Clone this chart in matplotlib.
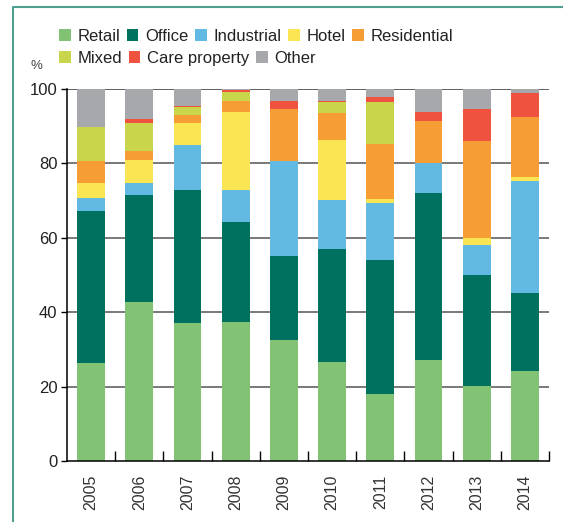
import matplotlib.pyplot as plt
import numpy as np
from matplotlib.lines import Line2D
from matplotlib.patches import Patch

plt.rcParams["font.family"] = ["Liberation Sans", "DejaVu Sans"]

years = ["2005", "2006", "2007", "2008", "2009", "2010", "2011", "2012", "2013", "2014"]

# shares in percent
retail = [26.4, 42.7, 37.2, 37.5, 32.5, 26.5, 18.0, 27.2, 20.2, 24.1]
office = [40.8, 28.8, 35.6, 26.7, 22.7, 30.6, 35.9, 44.9, 29.8, 21.1]
industrial = [3.6, 3.2, 12.1, 8.6, 25.4, 13.1, 15.4, 8.0, 8.1, 30.2]
hotel = [3.9, 6.2, 6.0, 20.9, 0.0, 16.2, 1.1, 0.0, 1.8, 0.9]
residential = [5.9, 2.3, 2.1, 3.1, 14.0, 7.2, 14.9, 11.3, 26.1, 16.2]
mixed = [9.2, 7.7, 2.2, 2.5, 0.0, 3.0, 11.3, 0.0, 0.0, 0.0]
care = [0.0, 1.0, 0.3, 0.3, 2.2, 0.3, 1.2, 2.4, 8.6, 6.4]
other = [10.2, 8.1, 4.5, 0.4, 3.2, 3.1, 2.2, 6.2, 5.4, 1.1]

series = [
    ("Retail", retail, "#82c275"),
    ("Office", office, "#00705f"),
    ("Industrial", industrial, "#62b9e2"),
    ("Hotel", hotel, "#fce552"),
    ("Residential", residential, "#f79d36"),
    ("Mixed", mixed, "#c9d64b"),
    ("Care property", care, "#ef5340"),
    ("Other", other, "#a7a8ab"),
]

fig = plt.figure(figsize=(5.63, 5.22), dpi=100)
ax = fig.add_axes([67 / 563, 1 - 461 / 522, 482 / 563, 372 / 522])

x = np.arange(len(years))
bottom = np.zeros(len(years))
for name, vals, color in series:
    vals = np.array(vals)
    ax.bar(x, vals, 0.58, bottom=bottom, color=color, zorder=3, linewidth=0)
    bottom += vals

ax.set_xlim(-0.5, len(years) - 0.5)
ax.set_ylim(0, 100)
ax.set_yticks([0, 20, 40, 60, 80, 100])
ax.tick_params(axis="y", direction="out", length=4, width=1, labelsize=12,
               labelcolor="#222222", pad=3)
for v in [20, 40, 60, 80, 100]:
    ax.axhline(v, color="#333333" if v == 100 else "#555555", lw=1.1, zorder=1)

ax.set_xticks(x)
ax.set_xticklabels(years, rotation=90, fontsize=11.5, color="#333333")
ax.tick_params(axis="x", length=0, pad=10)
ax.set_xticks(np.arange(0.5, len(years)), minor=True)
ax.tick_params(axis="x", which="minor", direction="in", length=7, width=1)

for s in ["top", "right"]:
    ax.spines[s].set_visible(False)
for s in ["left", "bottom"]:
    ax.spines[s].set_linewidth(1.1)
    ax.spines[s].set_zorder(4)

fig.text(36 / 563, 1 - 66 / 522, "%", fontsize=9.5, color="#444444",
         ha="center", va="center")

# legend in two packed rows
handles = [Patch(facecolor=c, edgecolor="none", label=n) for n, _, c in series]
leg_kw = dict(frameon=False, fontsize=12, handlelength=0.7, handleheight=0.7,
              handletextpad=0.4, columnspacing=0.4, borderaxespad=0,
              borderpad=0, loc="upper left", labelcolor="#222222")
leg1 = fig.legend(handles=handles[:5], ncol=5,
                  bbox_to_anchor=(59 / 563, 1 - 29 / 522), **leg_kw)
leg2 = fig.legend(handles=handles[5:], ncol=3,
                  bbox_to_anchor=(59 / 563, 1 - 51 / 522), **leg_kw)

# outer frame (left and top edges)
fx = 13 / 563
fy = 1 - 7 / 522
fig.add_artist(Line2D([fx, fx, 1], [0, fy, fy], transform=fig.transFigure,
                      color="#4e9f90", lw=1.5))

fig.savefig("out.png", dpi=100)
